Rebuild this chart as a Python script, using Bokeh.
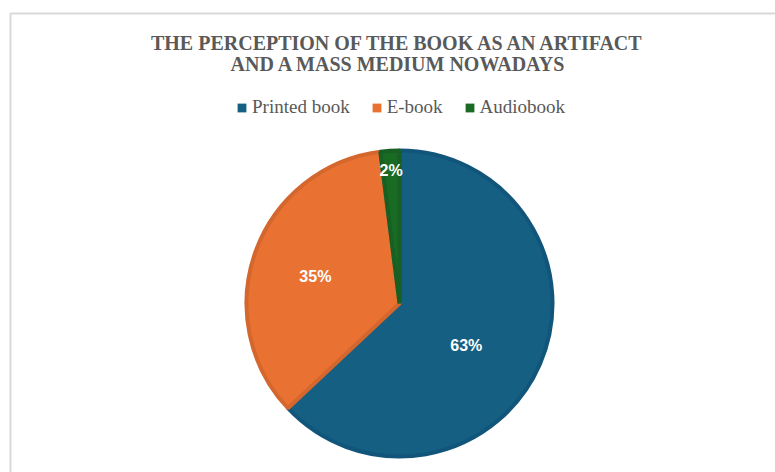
import math
from bokeh.plotting import figure
from bokeh.models import ColumnDataSource, Range1d, Label, Legend, LegendItem
from bokeh.core.properties import value
from bokeh.embed import file_html
from bokeh.resources import INLINE

# ---- data ----
categories = ["Printed book", "E-book", "Audiobook"]
shares = [63, 35, 2]
pct_labels = ["63%", "35%", "2%"]
title_lines = ["THE PERCEPTION OF THE BOOK AS AN ARTIFACT",
               "AND A MASS MEDIUM NOWADAYS"]

# ---- styles / layout ----
fill_colors = ["#156082", "#E97132", "#196B24"]
edge_colors = ["#12557a", "#d4672e", "#175f22"]
label_radius_frac = [0.51, 0.57, 0.86]
label_angle_nudge_deg = [9.0, -2.0, 0.0]

W, H = 775, 472
CX, CY, R = 399, H - 303, 153

p = figure(width=W, height=H, output_backend="svg", toolbar_location=None,
           x_range=Range1d(0, W), y_range=Range1d(0, H), min_border=0,
           tools="")
p.axis.visible = False
p.grid.visible = False
p.outline_line_color = None
p.background_fill_color = "white"
p.border_fill_color = "white"

# chart-area border (decoration)
p.line(x=[10, 10, W], y=[0, H - 13, H - 13], line_color="#d9d9d9", line_width=2)

total = float(sum(shares))
cum = 0.0
starts, ends, mids = [], [], []
for s in shares:
    a0 = cum / total
    cum += s
    a1 = cum / total
    starts.append(math.pi / 2 - 2 * math.pi * a1)
    ends.append(math.pi / 2 - 2 * math.pi * a0)
    mids.append(2 * math.pi * (a0 + a1) / 2)  # clockwise from top

src = ColumnDataSource(dict(cat=categories, share=shares, start=starts, end=ends,
                            fill=fill_colors, edge=edge_colors))
p.wedge(x=CX, y=CY, radius=R, start_angle="start", end_angle="end",
        direction="anticlock", fill_color="fill", line_color="edge",
        line_width=4, source=src)

lx, ly = [], []
for m, f, n in zip(mids, label_radius_frac, label_angle_nudge_deg):
    th = m + math.radians(n)
    rr = f * (R + 2)
    lx.append(CX + rr * math.sin(th))
    ly.append(CY + rr * math.cos(th))
p.text(x=lx, y=ly, text=pct_labels, text_color="white",
       text_font=value("Liberation Sans"), text_font_style="bold",
       text_font_size="16px", text_align="center", text_baseline="middle")

# title
for i, line in enumerate(title_lines):
    p.add_layout(Label(x=398, y=H - (42.5 + 20.5 * i), text=line,
                       text_font="Liberation Serif", text_font_style="bold",
                       text_font_size="20px", text_color="#595959",
                       text_align="center", text_baseline="middle"))

# legend with plain squares (swatch renderers kept outside the visible range)
items = []
for c, col in zip(categories, fill_colors):
    r = p.quad(left=[-40], right=[-30], top=[-30], bottom=[-40],
               fill_color=col, line_color=None)
    items.append(LegendItem(label=c, renderers=[r]))
legend = Legend(items=items, orientation="horizontal", location=(236, H - 118),
                glyph_width=11, glyph_height=11, label_standoff=5, spacing=21,
                padding=0, margin=0, border_line_color=None,
                background_fill_alpha=0, label_text_font="Liberation Serif",
                label_text_font_size="19px", label_text_color="#595959",
                label_height=20)
p.add_layout(legend)

open("out.html", "w").write(file_html(p, INLINE))
